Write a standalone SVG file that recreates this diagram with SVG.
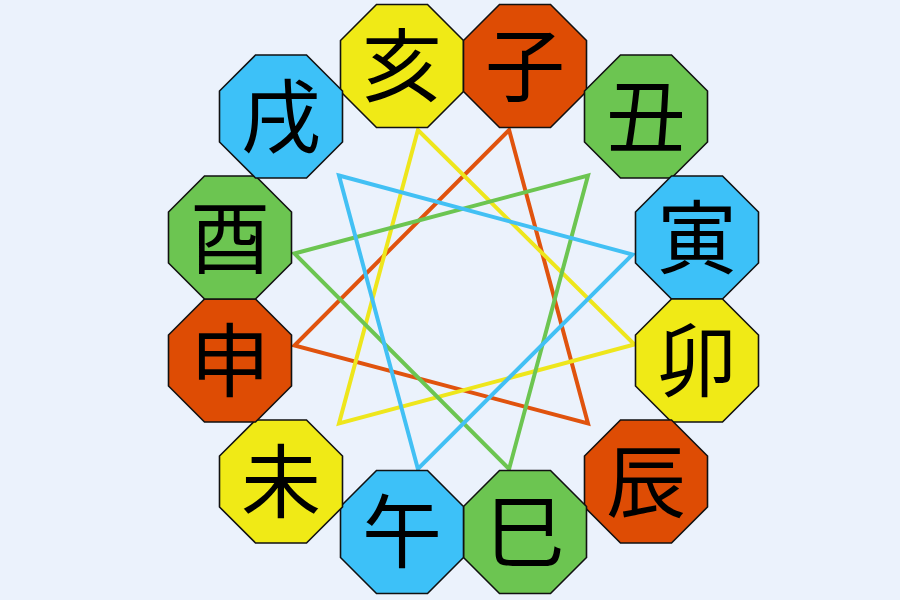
<svg xmlns="http://www.w3.org/2000/svg" xmlns:xlink="http://www.w3.org/1999/xlink" width="900" height="600" viewBox="0 0 900 600">
  <style>
    .oct { stroke: #111111; stroke-width: 1.6; }
    .y { fill: #F0EA16; }
    .o { fill: #DE4C04; }
    .g { fill: #6CC551; }
    .b { fill: #3DC1F8; }
    .lbl { font-family: "Noto Sans CJK JP", "Noto Sans CJK SC", sans-serif; font-size: 80px; fill: #000000; text-anchor: middle; }
    .tri { fill: none; stroke-width: 4; stroke-linejoin: miter; }
  </style>
  <defs>
    <polygon id="octagon" points="-25.5,-61.5 25.5,-61.5 61.5,-25.5 61.5,25.5 25.5,61.5 -25.5,61.5 -61.5,25.5 -61.5,-25.5"/>
  </defs>
  <rect x="0" y="0" width="900" height="600" fill="#EBF2FC"/>
  <g id="connectors">
    <polygon class="tri" stroke="#E0530E" points="509.1,130 588,423.5 294.5,345.5"/>
    <polygon class="tri" stroke="#EEE61C" points="417.9,130 634.5,344.5 339,423.5"/>
    <polygon class="tri" stroke="#6CC551" points="294.5,253.5 588,175.5 509.1,469"/>
    <polygon class="tri" stroke="#42C0F4" points="339,175.5 632.5,254.5 417.9,469"/>
  </g>
  <g id="node-hai"><use xlink:href="#octagon" class="oct y" transform="translate(402,66)"/><text class="lbl" x="402" y="95">亥</text></g>
  <g id="node-zi"><use xlink:href="#octagon" class="oct o" transform="translate(525,66)"/><text class="lbl" x="525" y="95">子</text></g>
  <g id="node-chou"><use xlink:href="#octagon" class="oct g" transform="translate(646,116.5)"/><text class="lbl" x="646" y="145.5">丑</text></g>
  <g id="node-yin"><use xlink:href="#octagon" class="oct b" transform="translate(697,237.5)"/><text class="lbl" x="697" y="266.5">寅</text></g>
  <g id="node-mao"><use xlink:href="#octagon" class="oct y" transform="translate(697,360.5)"/><text class="lbl" x="697" y="389.5">卯</text></g>
  <g id="node-chen"><use xlink:href="#octagon" class="oct o" transform="translate(646,481.5)"/><text class="lbl" x="646" y="510.5">辰</text></g>
  <g id="node-si"><use xlink:href="#octagon" class="oct g" transform="translate(525,532)"/><text class="lbl" x="525" y="561">巳</text></g>
  <g id="node-wu"><use xlink:href="#octagon" class="oct b" transform="translate(402,532)"/><text class="lbl" x="402" y="561">午</text></g>
  <g id="node-wei"><use xlink:href="#octagon" class="oct y" transform="translate(281,481.5)"/><text class="lbl" x="281" y="510.5">未</text></g>
  <g id="node-shen"><use xlink:href="#octagon" class="oct o" transform="translate(230,360.5)"/><text class="lbl" x="230" y="389.5">申</text></g>
  <g id="node-you"><use xlink:href="#octagon" class="oct g" transform="translate(230,237.5)"/><text class="lbl" x="230" y="266.5">酉</text></g>
  <g id="node-xu"><use xlink:href="#octagon" class="oct b" transform="translate(281,116.5)"/><text class="lbl" x="281" y="145.5">戌</text></g>
</svg>
